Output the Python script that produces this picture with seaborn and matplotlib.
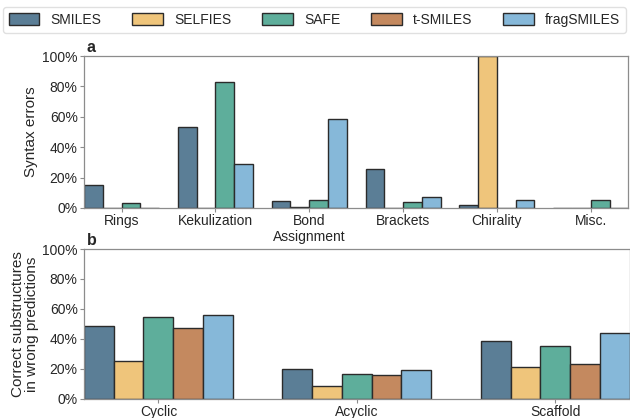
import matplotlib
matplotlib.use("Agg")
import matplotlib.pyplot as plt
from matplotlib.patches import Patch
from matplotlib.ticker import PercentFormatter
import seaborn as sns
import pandas as pd

# Representations and their colours
representations = ["SMILES", "SELFIES", "SAFE", "t-SMILES", "fragSMILES"]
colors = ["#5b7e96", "#efc57b", "#5eae9b", "#c4895f", "#86b8d9"]

# Panel a: syntax error types (t-SMILES has none)
error_types = ["Rings", "Kekulization", "Bond\nAssignment", "Brackets", "Chirality", "Misc."]
err_smiles = [15.0, 53.0, 4.5, 25.7, 2.3, 0.3]
err_selfies = [0.0, 0.0, 0.9, 0.0, 100.0, 0.0]
err_safe = [3.2, 83.0, 5.0, 4.0, 0.0, 5.2]
err_frag = [0.2, 29.0, 58.5, 7.5, 5.0, 0.1]

# Panel b: correct substructures in wrong predictions
sub_types = ["Cyclic", "Acyclic", "Scaffold"]
sub_smiles = [48.5, 20.3, 38.9]
sub_selfies = [25.2, 8.5, 21.2]
sub_safe = [54.5, 16.6, 35.5]
sub_tsmiles = [47.2, 15.9, 23.2]
sub_frag = [56.0, 19.5, 43.9]

err_series = {"SMILES": err_smiles, "SELFIES": err_selfies,
              "SAFE": err_safe, "fragSMILES": err_frag}
sub_series = {"SMILES": sub_smiles, "SELFIES": sub_selfies, "SAFE": sub_safe,
              "t-SMILES": sub_tsmiles, "fragSMILES": sub_frag}

def to_long(cats, series):
    rows = []
    for name, vals in series.items():
        for c, v in zip(cats, vals):
            rows.append({"category": c, "representation": name, "value": v})
    return pd.DataFrame(rows)

df_err = to_long(error_types, err_series)
df_sub = to_long(sub_types, sub_series)

sns.set_theme(style="white")
plt.rcParams["font.family"] = ["Liberation Sans", "DejaVu Sans"]
plt.rcParams["font.size"] = 10

palette = dict(zip(representations, colors))
spine_color = "#8c8c8c"

fig = plt.figure(figsize=(6.3, 4.18), dpi=100)
ax_a = fig.add_axes([0.1333, 0.5024, 0.864, 0.3636])
ax_b = fig.add_axes([0.1333, 0.0455, 0.866, 0.3588])

bar_kw = dict(edgecolor="#2b2b2b", linewidth=1.0, saturation=1, gap=0, legend=False)

sns.barplot(data=df_err, x="category", y="value", hue="representation",
            hue_order=["SMILES", "SELFIES", "SAFE", "fragSMILES"],
            palette=palette, width=0.8, ax=ax_a, **bar_kw)
sns.barplot(data=df_sub, x="category", y="value", hue="representation",
            hue_order=representations, palette=palette, width=0.75,
            ax=ax_b, **bar_kw)

ax_a.set_xlim(-0.4, len(error_types) - 0.6)
ax_b.set_xlim(-0.375, len(sub_types) - 0.625)

for ax, label, ylab, lpad in [(ax_a, "a", "Syntax errors", 3),
                              (ax_b, "b", "Correct substructures\nin wrong predictions", 2)]:
    ax.set_ylim(0, 100)
    ax.set_yticks([0, 20, 40, 60, 80, 100])
    ax.yaxis.set_major_formatter(PercentFormatter(decimals=0))
    ax.set_xlabel("")
    ax.set_ylabel(ylab, fontsize=11, labelpad=lpad, linespacing=1.0)
    ax.tick_params(axis="both", which="major", length=3, width=0.8,
                   color=spine_color, labelsize=10, pad=1.5,
                   bottom=True, left=True)
    for s in ax.spines.values():
        s.set_color(spine_color)
        s.set_linewidth(0.9)
    ax.text(0.005, 1.005, label, transform=ax.transAxes, fontsize=11.5,
            fontweight="bold", ha="left", va="bottom")

handles = [Patch(facecolor=c, edgecolor="#2b2b2b", linewidth=1.0, label=r)
           for r, c in zip(representations, colors)]
fig.legend(handles=handles, loc="lower left", ncol=5, mode="expand",
           bbox_to_anchor=(0.005, 0.922, 0.988, 0.066), frameon=True,
           fontsize=10, handlelength=2.2, handleheight=0.9,
           borderaxespad=0, edgecolor="#d9d9d9", fancybox=True)

fig.savefig("out.png", dpi=100)
